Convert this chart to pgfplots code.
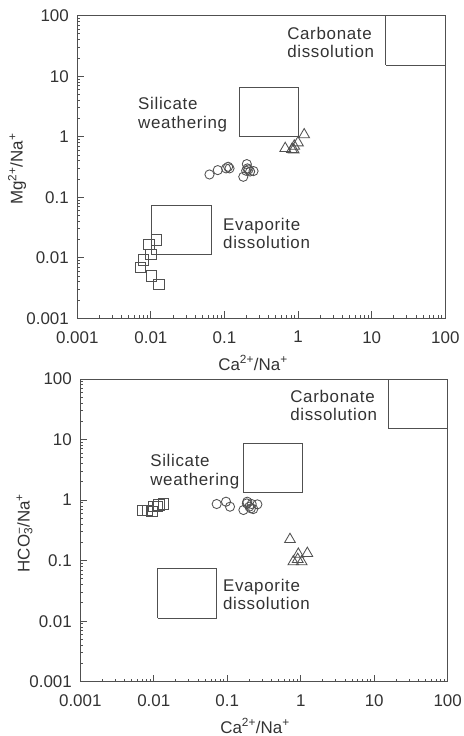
\documentclass[border=0pt]{standalone}
\usepackage{fontspec}
\setmainfont{Liberation Sans}
\usepackage{pgfplots}
\pgfplotsset{compat=1.18}
\definecolor{ink}{HTML}{505050}
\definecolor{txt}{HTML}{333333}
\newcommand{\lblfont}{\fontsize{17}{18.3}\selectfont\addfontfeatures{LetterSpace=4}}
\pgfplotsset{
  boxs/.style={ink, line width=0.9bp, mark=none},
  circ/.style={only marks, mark=o, mark size=4.6bp, ink, mark options={line width=0.85bp}},
  sq/.style={only marks, mark=square, mark size=5.2bp, ink, mark options={line width=0.85bp}},
  tri/.style={only marks, mark=triangle, mark size=6.2bp, ink, mark options={line width=0.85bp}},
}
\begin{document}
\begin{tikzpicture}
\path[use as bounding box] (0,0) rectangle (464bp,-736bp);
% ---------- top panel ----------
\begin{axis}[xmode=log, ymode=log,
    xmin=0.001, xmax=100, ymin=0.001, ymax=100,
    scale only axis,
    at={(77.3bp,-318.3bp)}, anchor=south west, width=368bp, height=302.6bp,
    xtick={0.001,0.01,0.1,1,10,100},
    ytick={0.001,0.01,0.1,1,10,100},
    xticklabels={0.001,0.01,0.1,1,10,100},
    yticklabels={0.001,0.01,0.1,1,10,100},
    minor xtick={}, minor ytick={},
    tick align=inside, tick pos=left,
    major tick length=7bp,
    axis line style={ink, line width=0.9bp},
    tick style={ink, line width=0.9bp},
    tick label style={font=\fontsize{17}{18}\selectfont, text=txt},
    /pgf/number format/assume math mode=true,
    xticklabel style={yshift=-9.5bp},
    yticklabel style={xshift=-5bp}]
\addplot[boxs] coordinates {(15.6,15.3)(100,15.3)(100,100)(15.6,100)(15.6,15.3)};
\addplot[boxs] coordinates {(0.16,1.0)(1.0,1.0)(1.0,6.46)(0.16,6.46)(0.16,1.0)};
\addplot[boxs] coordinates {(0.0103,0.0112)(0.066,0.0112)(0.066,0.072)(0.0103,0.072)(0.0103,0.0112)};
\addplot[circ] coordinates {(0.0625,0.238)(0.081,0.281)(0.105,0.30)(0.117,0.30)(0.112,0.319)(0.201,0.353)(0.18,0.218)(0.212,0.288)(0.248,0.271)(0.197,0.274)(0.223,0.267)(0.205,0.30)};
\addplot[tri] coordinates {(0.668,0.641)(0.824,0.618)(0.887,0.701)(0.995,0.796)(1.21,1.08)(0.87,0.61)};
\addplot[sq] coordinates {(0.0119,0.0196)(0.0094,0.0166)(0.00995,0.0114)(0.0079,0.00915)(0.0072,0.0069)(0.0102,0.00498)(0.0129,0.00367)};
\node[anchor=west, align=left, font=\lblfont, text=txt, inner sep=0pt] at (rel axis cs:0.570,0.911) {Carbonate\\dissolution};
\node[anchor=west, align=left, font=\lblfont, text=txt, inner sep=0pt] at (rel axis cs:0.165,0.673) {Silicate\\weathering};
\node[anchor=west, align=left, font=\lblfont, text=txt, inner sep=0pt] at (rel axis cs:0.396,0.280) {Evaporite\\dissolution};
\end{axis}
% ---------- bottom panel ----------
\begin{axis}[xmode=log, ymode=log,
    xmin=0.001, xmax=100, ymin=0.001, ymax=100,
    scale only axis,
    at={(80.3bp,-681.7bp)}, anchor=south west, width=367.4bp, height=302.7bp,
    xtick={0.001,0.01,0.1,1,10,100},
    ytick={0.001,0.01,0.1,1,10,100},
    xticklabels={0.001,0.01,0.1,1,10,100},
    yticklabels={0.001,0.01,0.1,1,10,100},
    minor xtick={}, minor ytick={},
    tick align=inside, tick pos=left,
    major tick length=7bp,
    axis line style={ink, line width=0.9bp},
    tick style={ink, line width=0.9bp},
    tick label style={font=\fontsize{17}{18}\selectfont, text=txt},
    /pgf/number format/assume math mode=true,
    xticklabel style={yshift=-9.5bp},
    yticklabel style={xshift=-5bp}]
\addplot[boxs] coordinates {(15.6,15.3)(100,15.3)(100,100)(15.6,100)(15.6,15.3)};
\addplot[boxs] coordinates {(0.166,1.36)(1.06,1.36)(1.06,8.65)(0.166,8.65)(0.166,1.36)};
\addplot[boxs] coordinates {(0.0113,0.0113)(0.0724,0.0113)(0.0724,0.0736)(0.0113,0.0736)(0.0113,0.0113)};
\addplot[sq] coordinates {(0.00705,0.668)(0.00825,0.668)(0.0094,0.643)(0.0099,0.778)(0.0112,0.778)(0.0118,0.83)(0.0135,0.861)};
\addplot[circ] coordinates {(0.0718,0.861)(0.0962,0.94)(0.109,0.778)(0.166,0.686)(0.187,0.94)(0.2,0.778)(0.215,0.861)(0.226,0.711)(0.257,0.85)(0.21,0.73)(0.185,0.88)};
\addplot[tri] coordinates {(0.714,0.224)(0.927,0.128)(1.23,0.132)(0.793,0.096)(1.03,0.096)(0.91,0.105)};
\node[anchor=west, align=left, font=\lblfont, text=txt, inner sep=0pt] at (rel axis cs:0.571,0.912) {Carbonate\\dissolution};
\node[anchor=west, align=left, font=\lblfont, text=txt, inner sep=0pt] at (rel axis cs:0.190,0.694) {Silicate\\weathering};
\node[anchor=west, align=left, font=\lblfont, text=txt, inner sep=0pt] at (rel axis cs:0.388,0.288) {Evaporite\\dissolution};
\end{axis}
% ---------- axis labels ----------
\node[text=txt, font=\fontsize{17}{18}\selectfont] at (253bp,-363bp) {Ca\textsuperscript{2+}/Na\textsuperscript{+}};
\node[text=txt, font=\fontsize{17}{18}\selectfont, rotate=90] at (17bp,-169bp) {Mg\textsuperscript{2+}/Na\textsuperscript{+}};
\node[text=txt, font=\fontsize{17}{18}\selectfont] at (255bp,-726bp) {Ca\textsuperscript{2+}/Na\textsuperscript{+}};
\node[text=txt, font=\fontsize{17}{18}\selectfont, rotate=90] at (24.5bp,-533bp) {HCO\rlap{\textsubscript{3}}\textsuperscript{−}/Na\textsuperscript{+}};
\end{tikzpicture}
\end{document}
